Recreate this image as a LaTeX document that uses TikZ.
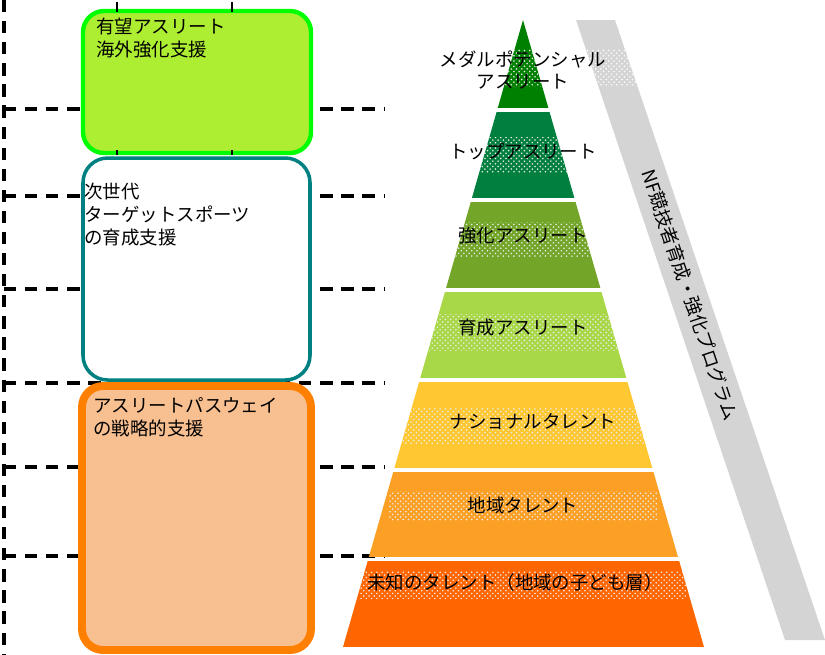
\documentclass[tikz,border=0pt]{standalone}
\usepackage{fontspec}
\setmainfont{Noto Sans CJK JP}
\usepackage{tikz}
\usetikzlibrary{calc,patterns}
\definecolor{medalgreen}{HTML}{008000}
\definecolor{topgreen}{HTML}{007F3F}
\definecolor{strgreen}{HTML}{72A528}
\definecolor{devgreen}{HTML}{A8D848}
\definecolor{natyellow}{HTML}{FFC832}
\definecolor{regorange}{HTML}{FBA024}
\definecolor{unkorange}{HTML}{FF6600}
\definecolor{boxlime}{HTML}{AEEE32}
\definecolor{boxpeach}{HTML}{F8C090}
\definecolor{bandgray}{HTML}{D4D4D4}
\tikzset{
  lbl/.style={font=\fontsize{10.5}{13}\selectfont, align=left, inner sep=0pt},
  tier/.style={font=\fontsize{10.5}{13}\selectfont, align=center, inner sep=0pt},
  guide/.style={draw=black, line width=2.2pt, dash pattern=on 7pt off 5pt},
  strip/.style={pattern=crosshatch dots, pattern color=white!85!gray},
}
\begin{document}
\begin{tikzpicture}[x=0.02cm, y=-0.02cm]
    \useasboundingbox (0,0) rectangle (825,654);

    % level guides
    \draw[guide] (4,0) -- (4,654);
    \foreach \y in {109, 196, 289, 383, 467, 556} {
      \draw[guide] (4,\y) -- (385,\y);
    }

    % support boxes
    \draw[draw=green, line width=2.5pt, fill=boxlime, rounded corners=12] (83,11) rectangle (311,153);
    \draw[line width=1.5pt] (117,2) -- (117,12) (232,2) -- (232,12);
    \draw[line width=1.5pt] (117,150) -- (117,155) (232,150) -- (232,155);
    \draw[draw=teal, line width=2pt, fill=white, rounded corners=14] (83,158) rectangle (310,380);
    \draw[draw=orange, line width=4.5pt, fill=boxpeach, rounded corners=12] (82,386) rectangle (311,650);

    \node[lbl, anchor=north west] (elite) at (96,18) {有望アスリート\\海外強化支援};
    \node[lbl, anchor=north west] (next) at (84,183) {次世代\\ターゲットスポーツ\\の育成支援};
    \node[lbl, anchor=north west] (path) at (93,397) {アスリートパスウェイ\\の戦略的支援};

    % NF programme band
    \fill[bandgray] (576,20) -- (615,20) -- (825,640) -- (785,640) -- cycle;
    \begin{scope}
      \clip (576,20) -- (615,20) -- (825,640) -- (785,640) -- cycle;
      \fill[pattern=crosshatch dots, pattern color=white] (560,49) rectangle (700,86);
    \end{scope}
    \node[tier, rotate=-71.4] (nf) at (690,295) {NF競技者育成・強化プログラム};

    % pyramid
    \coordinate (apex) at (523,20);
    \coordinate (baseL) at (343,647);
    \coordinate (baseR) at (704,647);
    \begin{scope}
      \clip (apex) -- (baseR) -- (baseL) -- cycle;
      \foreach \t/\b/\c in {20/108/medalgreen, 112/198/topgreen, 202/288/strgreen,
                            292/378/devgreen, 382/468/natyellow, 472/557/regorange, 561/647/unkorange} {
        \fill[\c] (330,\t) rectangle (720,\b);
      }
      \fill[strip] (330,49) rectangle (720,86);
      \fill[strip] (330,137) rectangle (720,172);
      \fill[strip] (330,222) rectangle (720,256);
      \fill[strip] (330,314) rectangle (720,350);
      \fill[strip] (330,407) rectangle (720,443);
    \end{scope}
    \fill[strip] (389,491) rectangle (657,520);
    \fill[strip] (360,571) rectangle (686,598);

    \node[tier] (medal) at (523,70) {メダルポテンシャル\\アスリート};
    \node[tier] (top) at (523,152) {トップアスリート};
    \node[tier] (strong) at (523,236) {強化アスリート};
    \node[tier] (dev) at (523,328) {育成アスリート};
    \node[tier] (national) at (533,421) {ナショナルタレント};
    \node[tier] (region) at (523,505) {地域タレント};
    \node[tier] (unknown) at (515,582) {未知のタレント（地域の子ども層）};

  \end{tikzpicture}
\end{document}
